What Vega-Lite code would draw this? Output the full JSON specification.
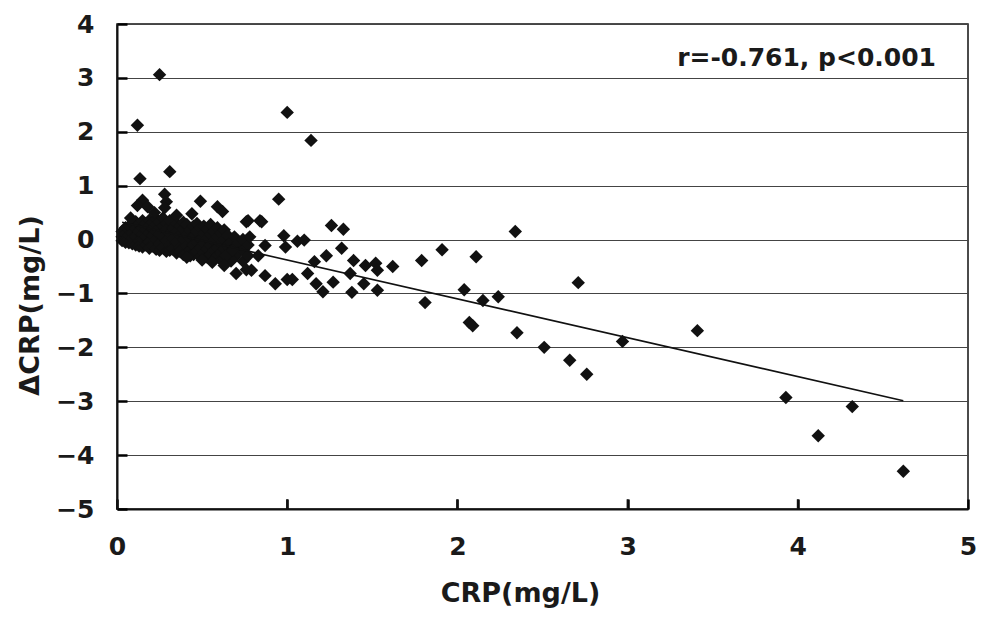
{
  "$schema": "https://vega.github.io/schema/vega-lite/v6.json",
  "width": 851,
  "height": 485,
  "autosize": {"type": "none"},
  "padding": {"left": 117, "top": 24, "right": 15, "bottom": 110},
  "background": "white",
  "config": {
    "font": "DejaVu Sans",
    "view": {"stroke": "#111", "strokeWidth": 1.5},
    "axis": {
      "labelFont": "DejaVu Sans",
      "labelFontWeight": "bold",
      "labelFontSize": 25,
      "labelColor": "#1a1a1a",
      "titleFont": "DejaVu Sans",
      "titleFontWeight": "bold",
      "titleFontSize": 27,
      "titleColor": "#1a1a1a",
      "domainColor": "#111",
      "domainWidth": 2,
      "ticks": true,
      "tickColor": "#000",
      "tickWidth": 2.5,
      "tickOpacity": 1
    }
  },
  "datasets": {
    "pts": [
      {"crp": 0.03, "dcrp": 0.15}, {"crp": 0.03, "dcrp": 0.05}, {"crp": 0.03, "dcrp": -0.02},
      {"crp": 0.05, "dcrp": 0.22}, {"crp": 0.05, "dcrp": 0.1}, {"crp": 0.05, "dcrp": 0.0}, {"crp": 0.05, "dcrp": -0.05},
      {"crp": 0.07, "dcrp": 0.18}, {"crp": 0.07, "dcrp": 0.08}, {"crp": 0.07, "dcrp": -0.06}, {"crp": 0.07, "dcrp": 0.25},
      {"crp": 0.09, "dcrp": 0.3}, {"crp": 0.09, "dcrp": 0.12}, {"crp": 0.09, "dcrp": 0.02}, {"crp": 0.09, "dcrp": -0.08},
      {"crp": 0.11, "dcrp": 0.33}, {"crp": 0.11, "dcrp": 0.2}, {"crp": 0.11, "dcrp": 0.05}, {"crp": 0.11, "dcrp": -0.1},
      {"crp": 0.13, "dcrp": 0.28}, {"crp": 0.13, "dcrp": 0.15}, {"crp": 0.13, "dcrp": -0.02}, {"crp": 0.13, "dcrp": -0.12},
      {"crp": 0.15, "dcrp": 0.35}, {"crp": 0.15, "dcrp": 0.1}, {"crp": 0.15, "dcrp": 0.0}, {"crp": 0.15, "dcrp": -0.14}, {"crp": 0.15, "dcrp": 0.22},
      {"crp": 0.17, "dcrp": 0.3}, {"crp": 0.17, "dcrp": 0.18}, {"crp": 0.17, "dcrp": 0.05}, {"crp": 0.17, "dcrp": -0.1},
      {"crp": 0.19, "dcrp": 0.36}, {"crp": 0.19, "dcrp": 0.12}, {"crp": 0.19, "dcrp": -0.05}, {"crp": 0.19, "dcrp": -0.16}, {"crp": 0.19, "dcrp": 0.25},
      {"crp": 0.21, "dcrp": 0.32}, {"crp": 0.21, "dcrp": 0.2}, {"crp": 0.21, "dcrp": 0.08}, {"crp": 0.21, "dcrp": -0.12},
      {"crp": 0.23, "dcrp": 0.28}, {"crp": 0.23, "dcrp": 0.15}, {"crp": 0.23, "dcrp": 0.0}, {"crp": 0.23, "dcrp": -0.18}, {"crp": 0.23, "dcrp": 0.38},
      {"crp": 0.25, "dcrp": 0.33}, {"crp": 0.25, "dcrp": 0.1}, {"crp": 0.25, "dcrp": -0.08}, {"crp": 0.25, "dcrp": -0.2},
      {"crp": 0.27, "dcrp": 0.25}, {"crp": 0.27, "dcrp": 0.05}, {"crp": 0.27, "dcrp": -0.15}, {"crp": 0.27, "dcrp": 0.4},
      {"crp": 0.29, "dcrp": 0.3}, {"crp": 0.29, "dcrp": 0.18}, {"crp": 0.29, "dcrp": -0.02}, {"crp": 0.29, "dcrp": -0.22},
      {"crp": 0.31, "dcrp": 0.35}, {"crp": 0.31, "dcrp": 0.12}, {"crp": 0.31, "dcrp": -0.1}, {"crp": 0.31, "dcrp": -0.2},
      {"crp": 0.33, "dcrp": 0.22}, {"crp": 0.33, "dcrp": 0.02}, {"crp": 0.33, "dcrp": -0.18},
      {"crp": 0.35, "dcrp": 0.3}, {"crp": 0.35, "dcrp": 0.15}, {"crp": 0.35, "dcrp": -0.05}, {"crp": 0.35, "dcrp": -0.25},
      {"crp": 0.37, "dcrp": 0.25}, {"crp": 0.37, "dcrp": 0.08}, {"crp": 0.37, "dcrp": -0.15}, {"crp": 0.37, "dcrp": -0.22},
      {"crp": 0.39, "dcrp": 0.2}, {"crp": 0.39, "dcrp": 0.0}, {"crp": 0.39, "dcrp": -0.28}, {"crp": 0.39, "dcrp": 0.32},
      {"crp": 0.41, "dcrp": 0.28}, {"crp": 0.41, "dcrp": 0.1}, {"crp": 0.41, "dcrp": -0.12}, {"crp": 0.41, "dcrp": -0.25},
      {"crp": 0.43, "dcrp": 0.18}, {"crp": 0.43, "dcrp": 0.02}, {"crp": 0.43, "dcrp": -0.2}, {"crp": 0.43, "dcrp": -0.3},
      {"crp": 0.45, "dcrp": 0.25}, {"crp": 0.45, "dcrp": 0.05}, {"crp": 0.45, "dcrp": -0.1}, {"crp": 0.45, "dcrp": -0.28},
      {"crp": 0.47, "dcrp": 0.15}, {"crp": 0.47, "dcrp": -0.05}, {"crp": 0.47, "dcrp": -0.22}, {"crp": 0.47, "dcrp": 0.3},
      {"crp": 0.49, "dcrp": 0.22}, {"crp": 0.49, "dcrp": 0.0}, {"crp": 0.49, "dcrp": -0.15}, {"crp": 0.49, "dcrp": -0.32},
      {"crp": 0.51, "dcrp": 0.12}, {"crp": 0.51, "dcrp": -0.08}, {"crp": 0.51, "dcrp": -0.25}, {"crp": 0.51, "dcrp": 0.25},
      {"crp": 0.53, "dcrp": 0.2}, {"crp": 0.53, "dcrp": 0.02}, {"crp": 0.53, "dcrp": -0.18}, {"crp": 0.53, "dcrp": -0.33},
      {"crp": 0.55, "dcrp": 0.1}, {"crp": 0.55, "dcrp": -0.1}, {"crp": 0.55, "dcrp": -0.28}, {"crp": 0.55, "dcrp": 0.28},
      {"crp": 0.57, "dcrp": 0.15}, {"crp": 0.57, "dcrp": -0.02}, {"crp": 0.57, "dcrp": -0.2}, {"crp": 0.57, "dcrp": -0.36},
      {"crp": 0.59, "dcrp": 0.05}, {"crp": 0.59, "dcrp": -0.15}, {"crp": 0.59, "dcrp": -0.3}, {"crp": 0.59, "dcrp": 0.22},
      {"crp": 0.61, "dcrp": 0.12}, {"crp": 0.61, "dcrp": -0.08}, {"crp": 0.61, "dcrp": -0.25}, {"crp": 0.61, "dcrp": -0.38},
      {"crp": 0.63, "dcrp": 0.0}, {"crp": 0.63, "dcrp": -0.18}, {"crp": 0.63, "dcrp": -0.35}, {"crp": 0.63, "dcrp": 0.18},
      {"crp": 0.65, "dcrp": 0.08}, {"crp": 0.65, "dcrp": -0.12}, {"crp": 0.65, "dcrp": -0.3},
      {"crp": 0.67, "dcrp": -0.05}, {"crp": 0.67, "dcrp": -0.22}, {"crp": 0.67, "dcrp": -0.4},
      {"crp": 0.69, "dcrp": 0.05}, {"crp": 0.69, "dcrp": -0.15}, {"crp": 0.69, "dcrp": -0.32},
      {"crp": 0.71, "dcrp": -0.08}, {"crp": 0.71, "dcrp": -0.25},
      {"crp": 0.74, "dcrp": 0.0}, {"crp": 0.74, "dcrp": -0.2}, {"crp": 0.74, "dcrp": -0.4},
      {"crp": 0.77, "dcrp": -0.1}, {"crp": 0.77, "dcrp": -0.3},
      {"crp": 0.28, "dcrp": 0.84}, {"crp": 0.29, "dcrp": 0.7}, {"crp": 0.28, "dcrp": 0.59},
      {"crp": 0.15, "dcrp": 0.73}, {"crp": 0.12, "dcrp": 0.63}, {"crp": 0.18, "dcrp": 0.61},
      {"crp": 0.49, "dcrp": 0.71}, {"crp": 0.59, "dcrp": 0.61}, {"crp": 0.62, "dcrp": 0.52},
      {"crp": 0.44, "dcrp": 0.48}, {"crp": 0.22, "dcrp": 0.5}, {"crp": 0.35, "dcrp": 0.45}, {"crp": 0.08, "dcrp": 0.4},
      {"crp": 0.76, "dcrp": 0.33}, {"crp": 0.85, "dcrp": 0.33}, {"crp": 0.77, "dcrp": 0.35},
      {"crp": 0.25, "dcrp": 3.06}, {"crp": 0.12, "dcrp": 2.12}, {"crp": 1.0, "dcrp": 2.36}, {"crp": 1.14, "dcrp": 1.84},
      {"crp": 0.135, "dcrp": 1.13}, {"crp": 0.31, "dcrp": 1.26}, {"crp": 0.95, "dcrp": 0.75},
      {"crp": 2.34, "dcrp": 0.15}, {"crp": 1.91, "dcrp": -0.19}, {"crp": 1.79, "dcrp": -0.39}, {"crp": 2.11, "dcrp": -0.32},
      {"crp": 1.81, "dcrp": -1.17}, {"crp": 2.04, "dcrp": -0.93}, {"crp": 2.15, "dcrp": -1.13}, {"crp": 2.24, "dcrp": -1.06},
      {"crp": 2.71, "dcrp": -0.8}, {"crp": 2.07, "dcrp": -1.54}, {"crp": 2.09, "dcrp": -1.6}, {"crp": 2.35, "dcrp": -1.73},
      {"crp": 2.51, "dcrp": -2.0}, {"crp": 2.66, "dcrp": -2.24}, {"crp": 2.76, "dcrp": -2.5}, {"crp": 2.97, "dcrp": -1.89},
      {"crp": 3.41, "dcrp": -1.69}, {"crp": 3.93, "dcrp": -2.93}, {"crp": 4.32, "dcrp": -3.1}, {"crp": 4.12, "dcrp": -3.64},
      {"crp": 4.62, "dcrp": -4.3},
      {"crp": 0.84, "dcrp": 0.35}, {"crp": 1.26, "dcrp": 0.26}, {"crp": 1.33, "dcrp": 0.19}, {"crp": 0.98, "dcrp": 0.07},
      {"crp": 1.06, "dcrp": -0.03}, {"crp": 1.1, "dcrp": -0.01}, {"crp": 0.99, "dcrp": -0.14}, {"crp": 1.32, "dcrp": -0.16},
      {"crp": 1.23, "dcrp": -0.3}, {"crp": 1.16, "dcrp": -0.41}, {"crp": 1.39, "dcrp": -0.39}, {"crp": 1.46, "dcrp": -0.48},
      {"crp": 1.52, "dcrp": -0.44}, {"crp": 1.53, "dcrp": -0.57}, {"crp": 1.62, "dcrp": -0.5}, {"crp": 1.37, "dcrp": -0.63},
      {"crp": 1.12, "dcrp": -0.63}, {"crp": 0.87, "dcrp": -0.67}, {"crp": 0.7, "dcrp": -0.63}, {"crp": 0.76, "dcrp": -0.56},
      {"crp": 0.79, "dcrp": -0.57}, {"crp": 1.0, "dcrp": -0.74}, {"crp": 1.03, "dcrp": -0.74}, {"crp": 0.93, "dcrp": -0.82},
      {"crp": 1.17, "dcrp": -0.82}, {"crp": 1.21, "dcrp": -0.97}, {"crp": 1.27, "dcrp": -0.79}, {"crp": 1.38, "dcrp": -0.98},
      {"crp": 1.45, "dcrp": -0.82}, {"crp": 1.53, "dcrp": -0.94}, {"crp": 0.78, "dcrp": 0.05}, {"crp": 0.87, "dcrp": -0.11},
      {"crp": 0.83, "dcrp": -0.3}, {"crp": 0.64, "dcrp": -0.3}, {"crp": 0.68, "dcrp": -0.2}, {"crp": 0.63, "dcrp": -0.48},
      {"crp": 0.41, "dcrp": -0.33}, {"crp": 0.5, "dcrp": -0.38}, {"crp": 0.56, "dcrp": -0.42}
    ],
    "fit": [
      {"crp": 0.03, "dcrp": 0.32},
      {"crp": 4.62, "dcrp": -2.99}
    ],
    "xticks": [
      {"tick": 1}, {"tick": 2}, {"tick": 3}, {"tick": 4}
    ],
    "note": [
      {"label": "r=-0.761, p<0.001"}
    ]
  },
  "layer": [
    {
      "data": {"name": "pts"},
      "mark": {"type": "point", "shape": "diamond", "filled": true, "size": 180, "color": "#111", "opacity": 1},
      "encoding": {
        "x": {
          "field": "crp", "type": "quantitative",
          "scale": {"domain": [0, 5], "nice": false},
          "axis": {
            "title": "CRP(mg/L)", "values": [0, 1, 2, 3, 4, 5], "grid": false,
            "tickSize": -10, "labelPadding": 35, "labelFlush": false, "format": "d",
            "titleX": 403, "titleY": 84, "titleBaseline": "middle"
          }
        },
        "y": {
          "field": "dcrp", "type": "quantitative",
          "scale": {"domain": [-5, 4], "nice": false},
          "axis": {
            "title": "ΔCRP(mg/L)", "values": [-5, -4, -3, -2, -1, 0, 1, 2, 3, 4],
            "grid": true, "gridColor": "#444", "gridWidth": 1.2, "gridOpacity": 1,
            "tickSize": -10, "labelPadding": 33, "labelFlush": false, "format": "d",
            "titleX": -87, "titleY": 281, "titleAngle": -90, "titleAlign": "center", "titleBaseline": "middle"
          }
        }
      }
    },
    {
      "data": {"name": "xticks"},
      "mark": {"type": "rule", "color": "#111", "strokeWidth": 2},
      "encoding": {
        "x": {"field": "tick", "type": "quantitative"},
        "y": {"datum": -5, "type": "quantitative"},
        "y2": {"datum": -4.82}
      }
    },
    {
      "data": {"name": "fit"},
      "mark": {"type": "line", "color": "#111", "strokeWidth": 1.6},
      "encoding": {
        "x": {"field": "crp", "type": "quantitative"},
        "y": {"field": "dcrp", "type": "quantitative"}
      }
    },
    {
      "data": {"name": "note"},
      "mark": {"type": "text", "align": "right", "baseline": "middle", "font": "DejaVu Sans", "fontWeight": "bold", "fontSize": 25, "color": "#1a1a1a"},
      "encoding": {
        "x": {"datum": 4.812, "type": "quantitative"},
        "y": {"datum": 3.36, "type": "quantitative"},
        "text": {"field": "label"}
      }
    }
  ]
}
